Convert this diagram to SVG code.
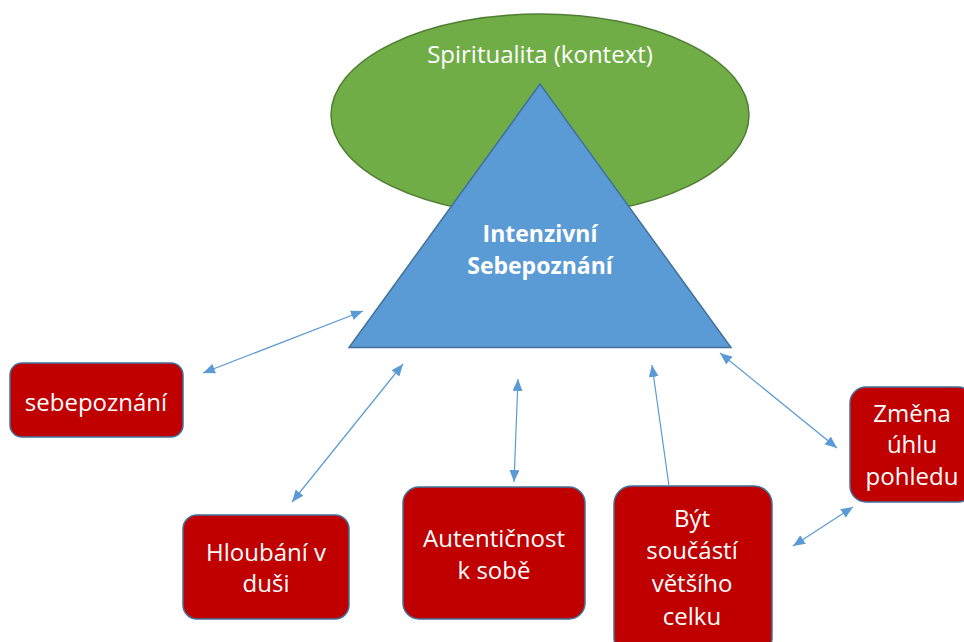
<svg xmlns="http://www.w3.org/2000/svg" width="964" height="642" viewBox="0 0 964 642">
<defs>
<style>
.box{fill:#c00000;stroke:#41719c;stroke-width:1.5}
.t{font-family:"Open Sans","Liberation Sans",sans-serif;font-size:24px;fill:#ffffff;text-anchor:middle}
.b{font-weight:bold;font-size:23px}
.c{stroke:#5b9bd5;stroke-width:1.2;fill:none}
</style>
<marker id="ah" viewBox="0 0 12 10" refX="12" refY="5" markerWidth="12" markerHeight="10" markerUnits="userSpaceOnUse" orient="auto-start-reverse">
<path d="M0,0 L12,5 L0,10 Z" fill="#5b9bd5"/>
</marker>
</defs>
<rect width="964" height="642" fill="#ffffff"/>
<g id="spiritualita">
<ellipse cx="540" cy="115" rx="209" ry="101" fill="#70ad47" stroke="#507e32" stroke-width="1.5"/>
<text class="t" x="540" y="63">Spiritualita (kontext)</text>
</g>
<g id="intenzivni">
<polygon points="540,84 349,347.5 731,347.5" fill="#5b9bd5" stroke="#41719c" stroke-width="1.5"/>
<text class="t b" x="540" y="242">Intenzivní</text>
<text class="t b" x="540" y="274">Sebepoznání</text>
</g>
<g id="sebepoznani">
<rect class="box" x="10" y="363" width="173" height="74" rx="12"/>
<text class="t" x="96" y="411">sebepoznání</text>
</g>
<g id="hloubani">
<rect class="box" x="183" y="515" width="166" height="104" rx="14"/>
<text class="t" x="266" y="561">Hloubání v</text>
<text class="t" x="266" y="592">duši</text>
</g>
<g id="autenticnost">
<rect class="box" x="403" y="487" width="182" height="132" rx="16"/>
<text class="t" x="494" y="547">Autentičnost</text>
<text class="t" x="494" y="579">k sobě</text>
</g>
<g id="byt">
<rect class="box" x="614" y="486" width="158" height="170" rx="18"/>
<text class="t" x="692" y="527">Být</text>
<text class="t" x="692" y="559">součástí</text>
<text class="t" x="692" y="592">většího</text>
<text class="t" x="692" y="625">celku</text>
</g>
<g id="zmena">
<rect class="box" x="850" y="387" width="124" height="115" rx="16"/>
<text class="t" x="912" y="422">Změna</text>
<text class="t" x="912" y="453">úhlu</text>
<text class="t" x="912" y="485">pohledu</text>
</g>
<g id="connectors">
<path class="c" d="M203,373 L363,311" marker-start="url(#ah)" marker-end="url(#ah)"/>
<path class="c" d="M292,502 L403,364" marker-start="url(#ah)" marker-end="url(#ah)"/>
<path class="c" d="M518,379 L514,482" marker-start="url(#ah)" marker-end="url(#ah)"/>
<path class="c" d="M669,486 L652,365" marker-end="url(#ah)"/>
<path class="c" d="M720,353 L837,448" marker-start="url(#ah)" marker-end="url(#ah)"/>
<path class="c" d="M853,507 L793,546" marker-start="url(#ah)" marker-end="url(#ah)"/>
</g>
</svg>
